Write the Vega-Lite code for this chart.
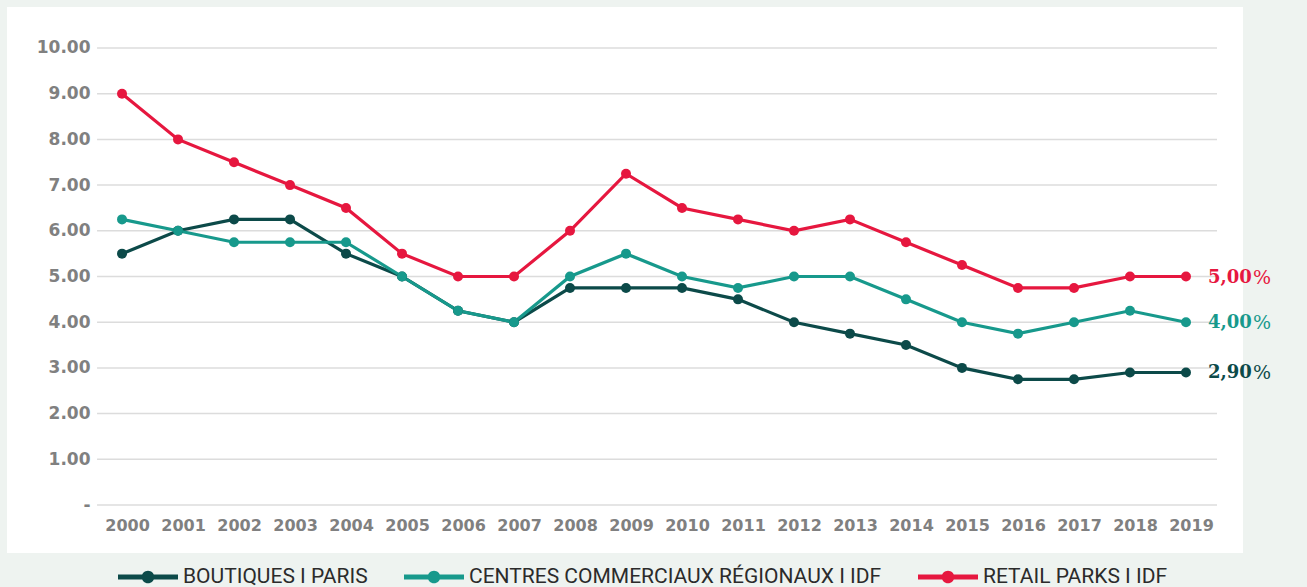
{
  "$schema": "https://vega.github.io/schema/vega-lite/v6.json",
  "width": 1236,
  "height": 546,
  "autosize": "none",
  "padding": {"left": 7, "top": 7, "right": 64, "bottom": 34},
  "background": "#eef3f0",
  "config": {"view": {"fill": "white", "stroke": null}, "font": "Roboto"},
  "datasets": {
    "grid": [{"v": 0}, {"v": 1}, {"v": 2}, {"v": 3}, {"v": 4}, {"v": 5}, {"v": 6}, {"v": 7}, {"v": 8}, {"v": 9}, {"v": 10}],
    "taux": [
      {"serie": "BOUTIQUES I PARIS", "annee": 2000, "taux": 5.5},
      {"serie": "BOUTIQUES I PARIS", "annee": 2001, "taux": 6.0},
      {"serie": "BOUTIQUES I PARIS", "annee": 2002, "taux": 6.25},
      {"serie": "BOUTIQUES I PARIS", "annee": 2003, "taux": 6.25},
      {"serie": "BOUTIQUES I PARIS", "annee": 2004, "taux": 5.5},
      {"serie": "BOUTIQUES I PARIS", "annee": 2005, "taux": 5.0},
      {"serie": "BOUTIQUES I PARIS", "annee": 2006, "taux": 4.25},
      {"serie": "BOUTIQUES I PARIS", "annee": 2007, "taux": 4.0},
      {"serie": "BOUTIQUES I PARIS", "annee": 2008, "taux": 4.75},
      {"serie": "BOUTIQUES I PARIS", "annee": 2009, "taux": 4.75},
      {"serie": "BOUTIQUES I PARIS", "annee": 2010, "taux": 4.75},
      {"serie": "BOUTIQUES I PARIS", "annee": 2011, "taux": 4.5},
      {"serie": "BOUTIQUES I PARIS", "annee": 2012, "taux": 4.0},
      {"serie": "BOUTIQUES I PARIS", "annee": 2013, "taux": 3.75},
      {"serie": "BOUTIQUES I PARIS", "annee": 2014, "taux": 3.5},
      {"serie": "BOUTIQUES I PARIS", "annee": 2015, "taux": 3.0},
      {"serie": "BOUTIQUES I PARIS", "annee": 2016, "taux": 2.75},
      {"serie": "BOUTIQUES I PARIS", "annee": 2017, "taux": 2.75},
      {"serie": "BOUTIQUES I PARIS", "annee": 2018, "taux": 2.9},
      {"serie": "BOUTIQUES I PARIS", "annee": 2019, "taux": 2.9},
      {"serie": "CENTRES COMMERCIAUX RÉGIONAUX I IDF", "annee": 2000, "taux": 6.25},
      {"serie": "CENTRES COMMERCIAUX RÉGIONAUX I IDF", "annee": 2001, "taux": 6.0},
      {"serie": "CENTRES COMMERCIAUX RÉGIONAUX I IDF", "annee": 2002, "taux": 5.75},
      {"serie": "CENTRES COMMERCIAUX RÉGIONAUX I IDF", "annee": 2003, "taux": 5.75},
      {"serie": "CENTRES COMMERCIAUX RÉGIONAUX I IDF", "annee": 2004, "taux": 5.75},
      {"serie": "CENTRES COMMERCIAUX RÉGIONAUX I IDF", "annee": 2005, "taux": 5.0},
      {"serie": "CENTRES COMMERCIAUX RÉGIONAUX I IDF", "annee": 2006, "taux": 4.25},
      {"serie": "CENTRES COMMERCIAUX RÉGIONAUX I IDF", "annee": 2007, "taux": 4.0},
      {"serie": "CENTRES COMMERCIAUX RÉGIONAUX I IDF", "annee": 2008, "taux": 5.0},
      {"serie": "CENTRES COMMERCIAUX RÉGIONAUX I IDF", "annee": 2009, "taux": 5.5},
      {"serie": "CENTRES COMMERCIAUX RÉGIONAUX I IDF", "annee": 2010, "taux": 5.0},
      {"serie": "CENTRES COMMERCIAUX RÉGIONAUX I IDF", "annee": 2011, "taux": 4.75},
      {"serie": "CENTRES COMMERCIAUX RÉGIONAUX I IDF", "annee": 2012, "taux": 5.0},
      {"serie": "CENTRES COMMERCIAUX RÉGIONAUX I IDF", "annee": 2013, "taux": 5.0},
      {"serie": "CENTRES COMMERCIAUX RÉGIONAUX I IDF", "annee": 2014, "taux": 4.5},
      {"serie": "CENTRES COMMERCIAUX RÉGIONAUX I IDF", "annee": 2015, "taux": 4.0},
      {"serie": "CENTRES COMMERCIAUX RÉGIONAUX I IDF", "annee": 2016, "taux": 3.75},
      {"serie": "CENTRES COMMERCIAUX RÉGIONAUX I IDF", "annee": 2017, "taux": 4.0},
      {"serie": "CENTRES COMMERCIAUX RÉGIONAUX I IDF", "annee": 2018, "taux": 4.25},
      {"serie": "CENTRES COMMERCIAUX RÉGIONAUX I IDF", "annee": 2019, "taux": 4.0},
      {"serie": "RETAIL PARKS I IDF", "annee": 2000, "taux": 9.0},
      {"serie": "RETAIL PARKS I IDF", "annee": 2001, "taux": 8.0},
      {"serie": "RETAIL PARKS I IDF", "annee": 2002, "taux": 7.5},
      {"serie": "RETAIL PARKS I IDF", "annee": 2003, "taux": 7.0},
      {"serie": "RETAIL PARKS I IDF", "annee": 2004, "taux": 6.5},
      {"serie": "RETAIL PARKS I IDF", "annee": 2005, "taux": 5.5},
      {"serie": "RETAIL PARKS I IDF", "annee": 2006, "taux": 5.0},
      {"serie": "RETAIL PARKS I IDF", "annee": 2007, "taux": 5.0},
      {"serie": "RETAIL PARKS I IDF", "annee": 2008, "taux": 6.0},
      {"serie": "RETAIL PARKS I IDF", "annee": 2009, "taux": 7.25},
      {"serie": "RETAIL PARKS I IDF", "annee": 2010, "taux": 6.5},
      {"serie": "RETAIL PARKS I IDF", "annee": 2011, "taux": 6.25},
      {"serie": "RETAIL PARKS I IDF", "annee": 2012, "taux": 6.0},
      {"serie": "RETAIL PARKS I IDF", "annee": 2013, "taux": 6.25},
      {"serie": "RETAIL PARKS I IDF", "annee": 2014, "taux": 5.75},
      {"serie": "RETAIL PARKS I IDF", "annee": 2015, "taux": 5.25},
      {"serie": "RETAIL PARKS I IDF", "annee": 2016, "taux": 4.75},
      {"serie": "RETAIL PARKS I IDF", "annee": 2017, "taux": 4.75},
      {"serie": "RETAIL PARKS I IDF", "annee": 2018, "taux": 5.0},
      {"serie": "RETAIL PARKS I IDF", "annee": 2019, "taux": 5.0}
    ],
    "fin": [
      {"serie": "BOUTIQUES I PARIS", "annee": 2019, "taux": 2.9, "label": "2,90"},
      {"serie": "CENTRES COMMERCIAUX RÉGIONAUX I IDF", "annee": 2019, "taux": 4.0, "label": "4,00"},
      {"serie": "RETAIL PARKS I IDF", "annee": 2019, "taux": 5.0, "label": "5,00"}
    ]
  },
  "layer": [
    {
      "data": {"name": "grid"},
      "mark": {"type": "rule", "color": "#dcdcdc", "strokeWidth": 1.5},
      "encoding": {
        "y": {"field": "v", "type": "quantitative", "scale": {"domain": [-1.05, 10.897], "nice": false, "zero": false}},
        "x": {"datum": 1999.554, "type": "quantitative", "scale": {"domain": [1997.946, 2020.018], "nice": false, "zero": false}},
        "x2": {"datum": 2019.554}
      }
    },
    {
      "data": {"name": "taux"},
      "mark": {"type": "line", "strokeWidth": 3.2, "point": {"filled": true, "size": 100, "opacity": 1}},
      "encoding": {
        "x": {
          "field": "annee", "type": "quantitative",
          "scale": {"domain": [1997.946, 2020.018], "nice": false, "zero": false},
          "axis": {
            "values": [2000, 2001, 2002, 2003, 2004, 2005, 2006, 2007, 2008, 2009, 2010, 2011, 2012, 2013, 2014, 2015, 2016, 2017, 2018, 2019],
            "format": "d", "labelAngle": 0, "grid": false, "domain": false, "ticks": false,
            "offset": -48, "labelPadding": 12, "labelOffset": 5, "labelFlush": false, "labelOverlap": false,
            "labelFont": "DejaVu Sans", "labelFontWeight": "bold", "labelFontSize": 16, "labelColor": "#808080", "title": null
          }
        },
        "y": {
          "field": "taux", "type": "quantitative",
          "scale": {"domain": [-1.05, 10.897], "nice": false, "zero": false},
          "axis": {
            "values": [0, 1, 2, 3, 4, 5, 6, 7, 8, 9, 10],
            "labelExpr": "datum.value == 0 ? '-' : format(datum.value, '.2f')",
            "grid": false, "domain": false, "ticks": false,
            "offset": -90, "labelPadding": 7,
            "labelFont": "DejaVu Sans", "labelFontWeight": "bold", "labelFontSize": 17, "labelColor": "#808080", "title": null
          }
        },
        "color": {
          "field": "serie", "type": "nominal",
          "scale": {
            "domain": ["BOUTIQUES I PARIS", "CENTRES COMMERCIAUX RÉGIONAUX I IDF", "RETAIL PARKS I IDF"],
            "range": ["#0c4a49", "#17998c", "#e6173f"]
          },
          "legend": {
            "orient": "none", "legendX": 111, "legendY": 540, "direction": "horizontal", "title": null,
            "labelFont": "Roboto", "labelFontSize": 21, "labelColor": "#2b2b2b", "labelLimit": 0,
            "symbolType": "M-1,-0.085H-0.19V0.085H-1Z M0.19,-0.085H1V0.085H0.19Z M0.21,0A0.21,0.21 0 1,1 -0.21,0A0.21,0.21 0 1,1 0.21,0Z",
            "symbolSize": 3600, "labelOffset": 5, "columnPadding": 36,
            "encode": {
              "symbols": {
                "update": {
                  "fill": {"scale": "color", "field": "value"},
                  "fillOpacity": {"value": 1},
                  "strokeWidth": {"value": 0},
                  "size": {"value": 3600},
                  "shape": {"value": "M-1,-0.085H-0.19V0.085H-1Z M0.19,-0.085H1V0.085H0.19Z M0.21,0A0.21,0.21 0 1,1 -0.21,0A0.21,0.21 0 1,1 0.21,0Z"}
                }
              }
            }
          }
        }
      }
    },
    {
      "data": {"name": "fin"},
      "mark": {"type": "text", "font": "DejaVu Serif", "fontWeight": "bold", "fontSize": 18, "align": "left", "baseline": "middle", "dx": 22, "dy": 1},
      "encoding": {
        "x": {"field": "annee", "type": "quantitative"},
        "y": {"field": "taux", "type": "quantitative"},
        "text": {"field": "label"},
        "color": {"field": "serie", "type": "nominal", "legend": null}
      }
    },
    {
      "data": {"name": "fin"},
      "mark": {"type": "text", "text": "%", "font": "DejaVu Serif", "fontWeight": "normal", "fontSize": 19, "align": "left", "baseline": "middle", "dx": 67, "dy": 1},
      "encoding": {
        "x": {"field": "annee", "type": "quantitative"},
        "y": {"field": "taux", "type": "quantitative"},
        "color": {"field": "serie", "type": "nominal", "legend": null}
      }
    }
  ]
}
